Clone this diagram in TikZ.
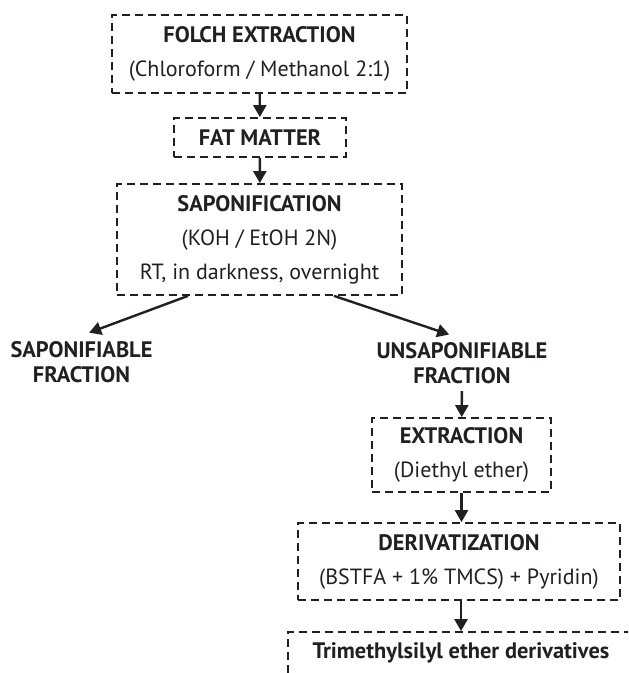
\documentclass[tikz,border=0pt]{standalone}
\usepackage{fontspec}
\setmainfont{PT Sans}
\usepackage{xcolor}
\usetikzlibrary{arrows.meta, positioning}
\definecolor{ink}{HTML}{231F20}

\begin{document}
\begin{tikzpicture}[
    x=0.5pt, y=-0.5pt,
    font=\fontsize{11}{17}\selectfont,
    text=ink,
    stage/.style={
        draw=ink,
        dash pattern=on 4pt off 2.5pt,
        line width=0.9pt,
        align=center,
        inner sep=0pt
    },
    fraction/.style={
        align=center,
        font=\fontsize{11.2}{12.5}\selectfont\bfseries
    },
    arrow/.style={
        draw=ink,
        -{Triangle[length=6pt,width=6.5pt]},
        line width=1.2pt
    }
]

\useasboundingbox (0,0) rectangle (628,673);
\clip (0,0) rectangle (628,673);

\node[stage, minimum width=147.5pt, minimum height=39pt] (folch) at (259.5,54) {\textbf{\fontsize{11.2}{17}\selectfont FOLCH EXTRACTION}\\(Chloroform / Methanol 2:1)};

\node[stage, minimum width=86pt, minimum height=19.5pt] (fat) at (260,137.5) {\textbf{\fontsize{11.2}{17}\selectfont FAT MATTER}};

\node[stage, minimum width=142.5pt, minimum height=55.5pt] (sapon) at (259.5,239.5) {\textbf{\fontsize{11.2}{17}\selectfont SAPONIFICATION}\\(KOH / EtOH 2N)\\RT, in darkness, overnight};

\node[fraction] (sapfrac) at (81.5,362.5) {SAPONIFIABLE\\FRACTION};

\node[fraction] (unsapfrac) at (462,363.5) {UNSAPONIFIABLE\\FRACTION};

\node[stage, minimum width=89.5pt, minimum height=37pt] (extr) at (461.5,455) {\textbf{\fontsize{11.2}{17}\selectfont EXTRACTION}\\(Diethyl ether)};

\node[stage, minimum width=161pt, minimum height=38.5pt] (deriv) at (459,561.5) {\textbf{\fontsize{11.2}{17}\selectfont DERIVATIZATION}\\(BSTFA + 1\% TMCS) + Pyridin)};

\node[stage, minimum width=173pt, minimum height=21pt] (tmse) at (461,653) {\textbf{\fontsize{11.2}{17}\selectfont Trimethylsilyl ether derivatives}};

\draw[arrow] (folch) -- (fat);
\draw[arrow] (fat) -- (sapon);
\draw[arrow, shorten >=3pt] ([xshift=-35.75pt]sapon.south) -- ([xshift=1pt]sapfrac.north);
\draw[arrow, shorten >=2pt] ([xshift=37.25pt]sapon.south) -- ([xshift=-4.5pt]unsapfrac.north);
\draw[arrow] (unsapfrac) -- (extr);
\draw[arrow] (extr.south) -- (extr.south |- deriv.north);
\draw[arrow] (deriv.south -| tmse.north) -- (tmse.north);

\end{tikzpicture}
\end{document}
